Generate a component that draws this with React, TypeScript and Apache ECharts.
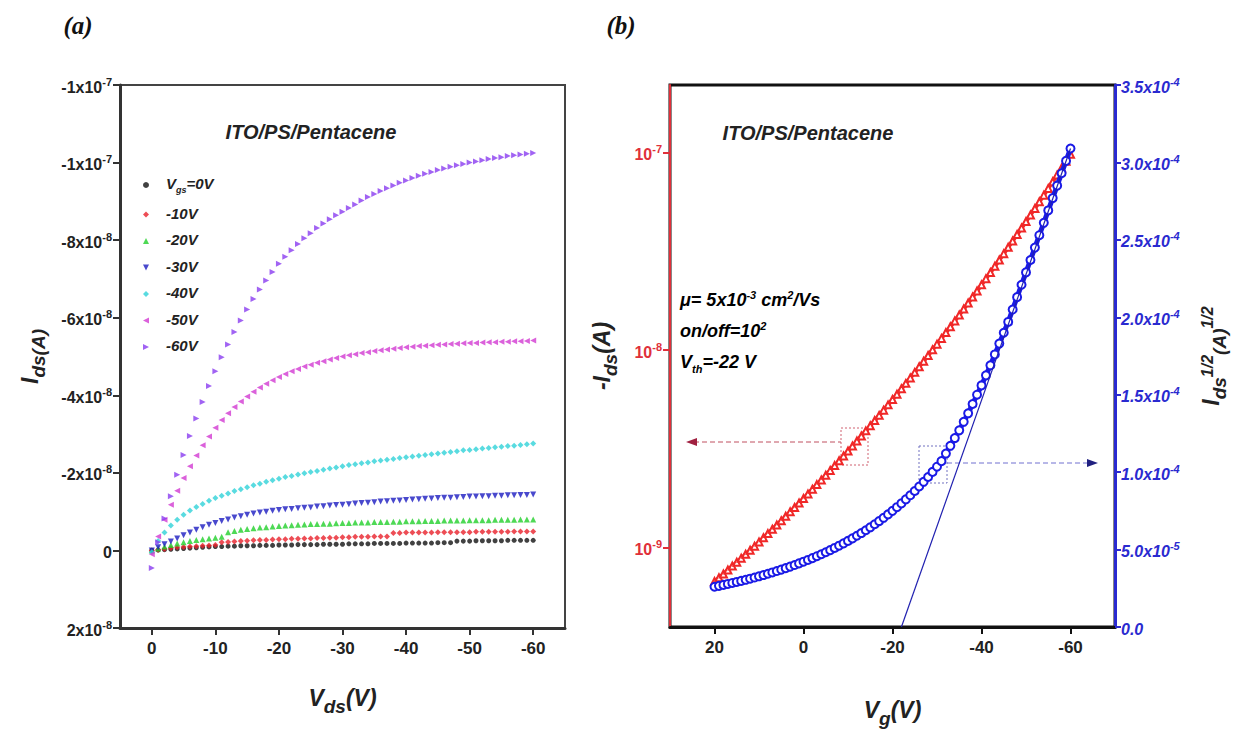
import React, { useEffect, useRef } from 'react';
import * as echarts from 'echarts';

// ---------- Panel (a): output characteristics, Ids in units of 1e-8 A ----------
const VDS = [0,-1,-2,-3,-4,-5,-6,-7,-8,-9,-10,-11,-12,-13,-14,-15,-16,-17,-18,-19,-20,-21,-22,-23,-24,-25,-26,-27,-28,-29,-30,-31,-32,-33,-34,-35,-36,-37,-38,-39,-40,-41,-42,-43,-44,-45,-46,-47,-48,-49,-50,-51,-52,-53,-54,-55,-56,-57,-58,-59,-60];

const IDS_0V = [0,-0.01,-0.02,-0.03,-0.04,-0.05,-0.06,-0.07,-0.08,-0.09,-0.10,-0.10,-0.11,-0.11,-0.12,-0.12,-0.12,-0.13,-0.13,-0.13,-0.14,-0.14,-0.14,-0.15,-0.15,-0.15,-0.15,-0.16,-0.16,-0.16,-0.16,-0.17,-0.17,-0.17,-0.17,-0.18,-0.18,-0.18,-0.18,-0.18,-0.19,-0.19,-0.19,-0.19,-0.19,-0.20,-0.20,-0.20,-0.24,-0.24,-0.24,-0.25,-0.25,-0.25,-0.25,-0.25,-0.26,-0.26,-0.26,-0.26,-0.26];
const IDS_10V = [0,-0.02,-0.04,-0.06,-0.08,-0.09,-0.10,-0.11,-0.12,-0.13,-0.14,-0.21,-0.22,-0.23,-0.24,-0.25,-0.26,-0.27,-0.27,-0.28,-0.29,-0.29,-0.30,-0.30,-0.31,-0.31,-0.32,-0.32,-0.33,-0.33,-0.34,-0.34,-0.35,-0.35,-0.35,-0.36,-0.36,-0.36,-0.45,-0.45,-0.46,-0.46,-0.46,-0.46,-0.46,-0.47,-0.47,-0.47,-0.47,-0.47,-0.47,-0.48,-0.48,-0.48,-0.48,-0.48,-0.48,-0.49,-0.49,-0.49,-0.49];
const IDS_20V = [0,-0.05,-0.10,-0.14,-0.18,-0.21,-0.24,-0.27,-0.29,-0.31,-0.33,-0.35,-0.47,-0.50,-0.53,-0.55,-0.57,-0.59,-0.60,-0.62,-0.63,-0.64,-0.65,-0.66,-0.67,-0.68,-0.68,-0.69,-0.69,-0.70,-0.71,-0.71,-0.72,-0.72,-0.72,-0.73,-0.73,-0.73,-0.74,-0.74,-0.75,-0.75,-0.75,-0.76,-0.76,-0.76,-0.77,-0.77,-0.77,-0.77,-0.78,-0.78,-0.78,-0.78,-0.79,-0.79,-0.79,-0.79,-0.80,-0.80,-0.80];
const IDS_30V = [0,-0.08,-0.16,-0.23,-0.31,-0.39,-0.46,-0.53,-0.60,-0.66,-0.71,-0.76,-0.80,-0.85,-0.88,-0.92,-0.95,-0.98,-1.00,-1.02,-1.04,-1.06,-1.07,-1.09,-1.10,-1.11,-1.13,-1.14,-1.16,-1.17,-1.18,-1.19,-1.21,-1.22,-1.23,-1.24,-1.26,-1.27,-1.28,-1.29,-1.30,-1.31,-1.32,-1.33,-1.34,-1.35,-1.36,-1.36,-1.37,-1.38,-1.39,-1.39,-1.40,-1.40,-1.41,-1.41,-1.42,-1.42,-1.43,-1.43,-1.44];
const IDS_40V = [0.05,-0.24,-0.46,-0.64,-0.79,-0.92,-1.03,-1.12,-1.20,-1.28,-1.35,-1.41,-1.47,-1.53,-1.58,-1.63,-1.68,-1.72,-1.77,-1.81,-1.85,-1.89,-1.92,-1.96,-1.99,-2.02,-2.05,-2.08,-2.11,-2.14,-2.17,-2.20,-2.22,-2.25,-2.27,-2.30,-2.32,-2.34,-2.36,-2.38,-2.40,-2.42,-2.44,-2.46,-2.48,-2.50,-2.52,-2.54,-2.56,-2.58,-2.59,-2.61,-2.63,-2.64,-2.66,-2.67,-2.69,-2.70,-2.72,-2.74,-2.76];
const IDS_50V = [0.10,-0.36,-0.79,-1.18,-1.54,-1.87,-2.17,-2.45,-2.71,-2.94,-3.16,-3.36,-3.54,-3.70,-3.84,-3.97,-4.09,-4.20,-4.30,-4.39,-4.47,-4.55,-4.62,-4.68,-4.74,-4.79,-4.84,-4.88,-4.92,-4.96,-5.00,-5.03,-5.06,-5.09,-5.11,-5.14,-5.16,-5.18,-5.20,-5.22,-5.24,-5.25,-5.27,-5.28,-5.29,-5.30,-5.31,-5.32,-5.33,-5.34,-5.35,-5.35,-5.36,-5.37,-5.37,-5.38,-5.38,-5.39,-5.39,-5.40,-5.41];
const IDS_60V = [0.45,-0.21,-0.82,-1.40,-1.95,-2.46,-2.95,-3.40,-3.83,-4.24,-4.62,-4.98,-5.31,-5.63,-5.93,-6.21,-6.48,-6.73,-6.96,-7.18,-7.39,-7.57,-7.74,-7.90,-8.05,-8.18,-8.31,-8.43,-8.54,-8.64,-8.73,-8.83,-8.92,-9.02,-9.11,-9.19,-9.27,-9.34,-9.41,-9.48,-9.54,-9.60,-9.66,-9.71,-9.76,-9.81,-9.85,-9.89,-9.93,-9.96,-10.00,-10.03,-10.06,-10.09,-10.12,-10.14,-10.17,-10.19,-10.21,-10.23,-10.25];

const A_SERIES_NAMES = ['0V', '-10V', '-20V', '-30V', '-40V', '-50V', '-60V'];
const A_SERIES_DATA = [IDS_0V, IDS_10V, IDS_20V, IDS_30V, IDS_40V, IDS_50V, IDS_60V];
const A_COLORS = ['#111111', '#e8202a', '#22d02a', '#1c1cc0', '#2fd2d8', '#d23ad2', '#8a3cf0'];
const A_SYMBOLS = ['circle', 'diamond', 'triangle', 'triangle', 'diamond', 'triangle', 'triangle'];
const A_ROTATE = [0, 0, 0, 180, 0, 90, -90];
const A_LEGEND_ICONS = [
  'circle',
  'diamond',
  'triangle',
  'path://M0,0L10,0L5,10Z',
  'diamond',
  'path://M10,0L10,10L0,5Z',
  'path://M0,0L10,5L0,10Z',
];

const A_X_TICKS = [0, -10, -20, -30, -40, -50, -60];
// y tick labels (value in 1e-8 A -> mantissa, exponent)
const A_Y_TICK_LABELS = [
  { v: -12, m: '-1x10', e: '-7' },
  { v: -10, m: '-1x10', e: '-7' },
  { v: -8, m: '-8x10', e: '-8' },
  { v: -6, m: '-6x10', e: '-8' },
  { v: -4, m: '-4x10', e: '-8' },
  { v: -2, m: '-2x10', e: '-8' },
  { v: 0, m: '0', e: '' },
  { v: 2, m: '2x10', e: '-8' },
];

// ---------- Panel (b): transfer characteristics ----------
const VG = [20,19,18,17,16,15,14,13,12,11,10,9,8,7,6,5,4,3,2,1,0,-1,-2,-3,-4,-5,-6,-7,-8,-9,-10,-11,-12,-13,-14,-15,-16,-17,-18,-19,-20,-21,-22,-23,-24,-25,-26,-27,-28,-29,-30,-31,-32,-33,-34,-35,-36,-37,-38,-39,-40,-41,-42,-43,-44,-45,-46,-47,-48,-49,-50,-51,-52,-53,-54,-55,-56,-57,-58,-59,-60];
const NEG_IDS = [6.76e-10,7.06e-10,7.38e-10,7.73e-10,8.09e-10,8.46e-10,8.87e-10,9.29e-10,9.73e-10,1.02e-9,1.072e-9,1.125e-9,1.181e-9,1.242e-9,1.306e-9,1.373e-9,1.445e-9,1.521e-9,1.601e-9,1.687e-9,1.778e-9,1.875e-9,1.979e-9,2.089e-9,2.206e-9,2.331e-9,2.464e-9,2.606e-9,2.756e-9,2.917e-9,3.090e-9,3.274e-9,3.470e-9,3.681e-9,3.905e-9,4.145e-9,4.401e-9,4.677e-9,4.971e-9,5.285e-9,5.623e-9,5.985e-9,6.373e-9,6.789e-9,7.236e-9,7.716e-9,8.233e-9,8.789e-9,9.385e-9,1.003e-8,1.072e-8,1.146e-8,1.226e-8,1.312e-8,1.405e-8,1.505e-8,1.613e-8,1.729e-8,1.855e-8,1.991e-8,2.138e-8,2.297e-8,2.469e-8,2.654e-8,2.855e-8,3.073e-8,3.308e-8,3.563e-8,3.841e-8,4.141e-8,4.467e-8,4.821e-8,5.204e-8,5.622e-8,6.075e-8,6.569e-8,7.104e-8,7.688e-8,8.324e-8,9.017e-8,9.772e-8];
const SQRT_IDS = [2.600e-5,2.657e-5,2.717e-5,2.780e-5,2.844e-5,2.909e-5,2.978e-5,3.048e-5,3.119e-5,3.194e-5,3.274e-5,3.354e-5,3.437e-5,3.524e-5,3.614e-5,3.705e-5,3.801e-5,3.900e-5,4.001e-5,4.107e-5,4.217e-5,4.330e-5,4.449e-5,4.571e-5,4.697e-5,4.828e-5,4.964e-5,5.105e-5,5.250e-5,5.401e-5,5.559e-5,5.722e-5,5.891e-5,6.067e-5,6.249e-5,6.438e-5,6.634e-5,6.839e-5,7.051e-5,7.270e-5,7.499e-5,7.736e-5,7.983e-5,8.240e-5,8.506e-5,8.784e-5,9.074e-5,9.375e-5,9.688e-5,1.0015e-4,1.035e-4,1.071e-4,1.12e-4,1.17e-4,1.22e-4,1.27e-4,1.325e-4,1.38e-4,1.44e-4,1.50e-4,1.56e-4,1.625e-4,1.69e-4,1.76e-4,1.83e-4,1.90e-4,1.97e-4,2.05e-4,2.13e-4,2.21e-4,2.29e-4,2.37e-4,2.45e-4,2.53e-4,2.61e-4,2.69e-4,2.77e-4,2.85e-4,2.93e-4,3.01e-4,3.09e-4];
const TANGENT_VG = [-22, -60];
const TANGENT_SQRT = [0, 3.09e-4];

const B_X_TICKS = [20, 0, -20, -40, -60];
const B_RIGHT_TICK_LABELS = [
  { v: 0, m: '0.0', e: '' },
  { v: 5e-5, m: '5.0x10', e: '-5' },
  { v: 1e-4, m: '1.0x10', e: '-4' },
  { v: 1.5e-4, m: '1.5x10', e: '-4' },
  { v: 2e-4, m: '2.0x10', e: '-4' },
  { v: 2.5e-4, m: '2.5x10', e: '-4' },
  { v: 3e-4, m: '3.0x10', e: '-4' },
  { v: 3.5e-4, m: '3.5x10', e: '-4' },
];

const SANS = "'Liberation Sans', Arial, sans-serif";
const SERIF = "'Liberation Serif', 'DejaVu Serif', serif";
const DARK = '#333333';
const RED = '#e0303a';
const BLUE = '#2a2ad0';

function lookupLabel(list: { v: number; m: string; e: string }[], v: number) {
  let best = list[0];
  for (const it of list) if (Math.abs(it.v - v) < Math.abs(best.v - v)) best = it;
  return best.e ? `{m|${best.m}}{s|${best.e}}` : `{m|${best.m}}`;
}

export default function App() {
  const ref = useRef<HTMLDivElement>(null);
  useEffect(() => {
    if (!ref.current) return;
    const chart = echarts.init(ref.current, undefined, { renderer: 'svg' });

    const tickRich = (color: string, italic: boolean) => ({
      m: { fontSize: 16, fontWeight: 'bold', fontStyle: italic ? 'italic' : 'normal', fontFamily: SANS, color, lineHeight: 20, verticalAlign: 'bottom' },
      s: { fontSize: 11, fontWeight: 'bold', fontStyle: italic ? 'italic' : 'normal', fontFamily: SANS, color, lineHeight: 20, verticalAlign: 'top', padding: [1, 0, 0, 0] },
    });
    const nameRich = (color: string) => ({
      i: { fontSize: 23, fontWeight: 'bold', fontStyle: 'italic', fontFamily: SANS, color, lineHeight: 30, verticalAlign: 'top' },
      sub: { fontSize: 19, fontWeight: 'bold', fontStyle: 'italic', fontFamily: SANS, color, lineHeight: 30, verticalAlign: 'bottom' },
      sup: { fontSize: 16, fontWeight: 'bold', fontStyle: 'italic', fontFamily: SANS, color, lineHeight: 30, verticalAlign: 'top' },
    });

    const aSeries = A_SERIES_NAMES.map((name, si) => ({
      name,
      type: 'scatter',
      xAxisIndex: 0,
      yAxisIndex: 0,
      symbol: A_SYMBOLS[si],
      symbolRotate: A_ROTATE[si],
      symbolSize: si === 0 ? 5 : 6,
      itemStyle: { color: A_COLORS[si] },
      data: VDS.map((v, i) => [v, A_SERIES_DATA[si][i]]),
      z: 2 + si,
    }));

    const option: any = {
      animation: false,
      backgroundColor: '#ffffff',
      grid: [
        { left: 120, top: 85, width: 445, height: 543, show: true, borderColor: '#444', borderWidth: 2 },
        { left: 670, top: 85, width: 445, height: 542, show: true, borderColor: '#111', borderWidth: 3 },
      ],
      legend: {
        data: A_SERIES_NAMES.map((name, i) => ({ name, icon: A_LEGEND_ICONS[i] })),
        orient: 'vertical',
        left: 138,
        top: 171,
        itemWidth: 6,
        itemHeight: 6,
        itemGap: 11.5,
        formatter: (name: string) => (name === '0V' ? '{pad|}{i|V}{b|gs}{i|=0V}' : `{pad|}{i|${name}}`),
        textStyle: {
          rich: {
            pad: { width: 12 },
            i: { fontSize: 15, fontWeight: 'bold', fontStyle: 'italic', fontFamily: SANS, color: '#222', lineHeight: 18, verticalAlign: 'top' },
            b: { fontSize: 9, fontWeight: 'bold', fontStyle: 'italic', fontFamily: SANS, color: '#222', lineHeight: 18, verticalAlign: 'bottom' },
          },
        },
      },
      xAxis: [
        {
          gridIndex: 0, type: 'value', min: -65, max: 5, inverse: true,
          axisLine: { onZero: false, lineStyle: { color: DARK, width: 3 } },
          axisTick: { customValues: A_X_TICKS, length: 7, lineStyle: { color: DARK, width: 2 } },
          axisLabel: { customValues: A_X_TICKS, formatter: (v: number) => String(v), color: '#222', fontSize: 17, fontWeight: 'bold', fontFamily: SANS, margin: 12 },
          splitLine: { show: false },
          name: '{i|V}{sub|ds}{i|(V)}', nameLocation: 'middle', nameGap: 58,
          nameTextStyle: { rich: nameRich('#222') },
        },
        {
          gridIndex: 1, type: 'value', min: -70, max: 30, inverse: true,
          axisLine: { onZero: false, lineStyle: { color: '#111', width: 3 } },
          axisTick: { customValues: B_X_TICKS, length: 7, lineStyle: { color: '#111', width: 2 } },
          axisLabel: { customValues: B_X_TICKS, formatter: (v: number) => String(v), color: '#222', fontSize: 17, fontWeight: 'bold', fontFamily: SANS, margin: 12 },
          splitLine: { show: false },
          name: '{i|V}{sub|g}{i|(V)}', nameLocation: 'middle', nameGap: 71,
          nameTextStyle: { rich: nameRich('#222') },
        },
      ],
      yAxis: [
        {
          gridIndex: 0, type: 'value', min: -12, max: 2, interval: 2, inverse: true,
          axisLine: { show: true, onZero: false, lineStyle: { color: DARK, width: 3 } },
          axisTick: { show: true, length: 7, lineStyle: { color: DARK, width: 2 } },
          axisLabel: { formatter: (v: number) => lookupLabel(A_Y_TICK_LABELS, v), margin: 8, rich: tickRich('#222', false) },
          splitLine: { show: false },
          name: '{i|I}{sub|ds(A)}', nameLocation: 'middle', nameGap: 72,
          nameTextStyle: { rich: nameRich('#222') },
        },
        {
          gridIndex: 1, type: 'log', logBase: 10, min: 3.98e-10, max: 2.19e-7, position: 'left',
          axisLine: { show: true, onZero: false, lineStyle: { color: RED, width: 2 } },
          axisTick: { show: true, length: 7, lineStyle: { color: RED, width: 2 } },
          axisLabel: {
            showMinLabel: false, showMaxLabel: false, margin: 8,
            formatter: (v: number) => `{m|10}{s|${Math.round(Math.log10(v))}}`,
            rich: tickRich(RED, false),
          },
          splitLine: { show: false },
          name: '{i|-I}{sub|ds}{i|(A)}', nameLocation: 'middle', nameGap: 50,
          nameTextStyle: { rich: nameRich('#222') },
        },
        {
          gridIndex: 1, type: 'value', min: 0, max: 3.5e-4, interval: 5e-5, position: 'right',
          axisLine: { show: true, onZero: false, lineStyle: { color: BLUE, width: 3 } },
          axisTick: { show: true, length: 6, lineStyle: { color: BLUE, width: 2 } },
          axisLabel: { formatter: (v: number) => lookupLabel(B_RIGHT_TICK_LABELS, v), margin: 6, rich: tickRich(BLUE, true) },
          splitLine: { show: false },
          name: '{i|I}{sub|ds}{sup|1/2}{sub|(A)}{sup|1/2}', nameLocation: 'middle', nameGap: 84, nameRotate: 90,
          nameTextStyle: { rich: nameRich('#222') },
        },
      ],
      series: [
        ...aSeries,
        {
          name: '-Ids', type: 'line', xAxisIndex: 1, yAxisIndex: 1,
          symbol: 'emptyTriangle', symbolSize: 7, showSymbol: true,
          lineStyle: { color: '#f02828', width: 4 },
          itemStyle: { color: '#f02828', borderColor: '#f02828', borderWidth: 1.6 },
          data: VG.map((v, i) => [v, NEG_IDS[i]]),
          z: 3,
        },
        {
          name: 'sqrtIds', type: 'line', xAxisIndex: 1, yAxisIndex: 2,
          symbol: 'emptyCircle', symbolSize: 8, showSymbol: true,
          lineStyle: { color: '#1a1ae6', width: 5 },
          itemStyle: { color: '#1a1ae6', borderColor: '#1a1ae6', borderWidth: 2.2 },
          data: VG.map((v, i) => [v, SQRT_IDS[i]]),
          z: 4,
        },
        {
          name: 'tangent', type: 'line', xAxisIndex: 1, yAxisIndex: 2,
          showSymbol: false, symbol: 'none',
          lineStyle: { color: '#2020b0', width: 1.2 },
          data: TANGENT_VG.map((v, i) => [v, TANGENT_SQRT[i]]),
          z: 5,
        },
      ],
      graphic: [
        { type: 'text', x: 78, y: 25, style: { text: '(a)', font: 'italic bold 25px ' + SERIF, fill: '#111', textAlign: 'center', textVerticalAlign: 'middle' } },
        { type: 'text', x: 621, y: 25, style: { text: '(b)', font: 'italic bold 25px ' + SERIF, fill: '#111', textAlign: 'center', textVerticalAlign: 'middle' } },
        { type: 'text', x: 311, y: 132, style: { text: 'ITO/PS/Pentacene', font: 'italic bold 20px ' + SANS, fill: '#222', textAlign: 'center', textVerticalAlign: 'middle' } },
        { type: 'text', x: 808, y: 133, style: { text: 'ITO/PS/Pentacene', font: 'italic bold 20px ' + SANS, fill: '#222', textAlign: 'center', textVerticalAlign: 'middle' } },
        {
          type: 'text', x: 680, y: 284,
          style: {
            text: '{i|μ= 5x10}{s|-3}{i| cm}{s|2}{i|/Vs}\n{i|on/off=10}{s|2}\n{i|V}{b|th}{i|=-22 V}',
            rich: {
              i: { fontSize: 18, fontWeight: 'bold', fontStyle: 'italic', fontFamily: SANS, color: '#222', lineHeight: 31, verticalAlign: 'middle' },
              s: { fontSize: 11, fontWeight: 'bold', fontStyle: 'italic', fontFamily: SANS, color: '#222', lineHeight: 31, verticalAlign: 'top', padding: [5, 0, 0, 0] },
              b: { fontSize: 11, fontWeight: 'bold', fontStyle: 'italic', fontFamily: SANS, color: '#222', lineHeight: 31, verticalAlign: 'bottom', padding: [0, 0, 3, 0] },
            },
          },
        },
        // red annotation: dotted box and dashed arrow pointing to the left axis
        { type: 'rect', shape: { x: 841, y: 428, width: 27, height: 37 }, style: { fill: 'none', stroke: '#d06070', lineWidth: 1, lineDash: [2, 2] } },
        { type: 'line', shape: { x1: 694, y1: 442, x2: 841, y2: 442 }, style: { stroke: '#c05060', lineWidth: 1, lineDash: [5, 3] } },
        { type: 'polygon', shape: { points: [[686, 442], [697, 438], [697, 446]] }, style: { fill: '#a02040' } },
        // blue annotation: dotted box and dashed arrow pointing to the right axis
        { type: 'rect', shape: { x: 919, y: 446, width: 28, height: 37 }, style: { fill: 'none', stroke: '#7070c0', lineWidth: 1, lineDash: [2, 2] } },
        { type: 'line', shape: { x1: 947, y1: 463, x2: 1090, y2: 463 }, style: { stroke: '#7070d0', lineWidth: 1, lineDash: [5, 3] } },
        { type: 'polygon', shape: { points: [[1098, 463], [1087, 459], [1087, 467]] }, style: { fill: '#202080' } },
      ],
    };

    chart.setOption(option);
    return () => chart.dispose();
  }, []);

  return <div ref={ref} style={{ position: 'absolute', left: 0, top: 0, width: 1236, height: 738, background: '#fff' }} />;
}
